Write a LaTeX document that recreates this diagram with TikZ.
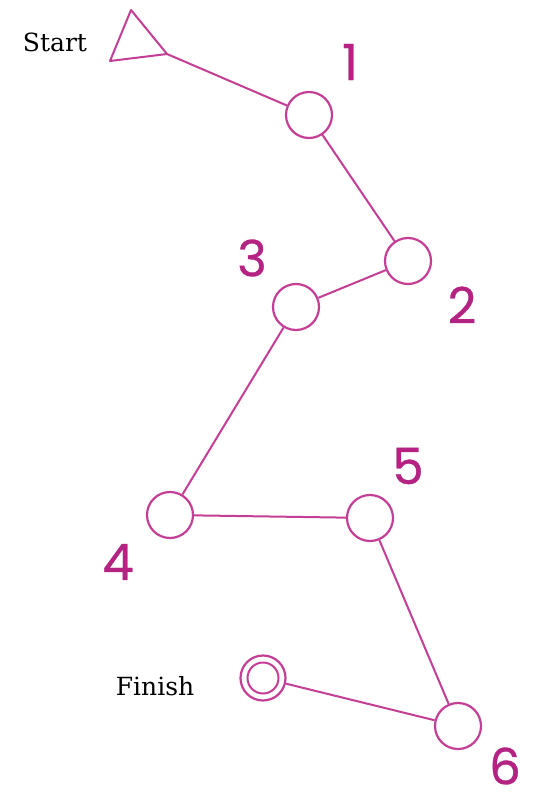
\documentclass[tikz,border=0pt]{standalone}
\usepackage{fontspec}
\newfontfamily\numfont{Poppins}[FakeBold=0.6]
\newfontfamily\labfont{DejaVu Serif}
\definecolor{mg}{RGB}{196,62,150}
\definecolor{mgt}{RGB}{180,35,130}
\begin{document}
\begin{tikzpicture}[x=1pt,y=-1pt,
  st/.style={circle,draw=mg,line width=2.2pt,minimum size=46pt,inner sep=0pt},
  ln/.style={draw=mg,line width=2pt},
  num/.style={text=mgt,font=\numfont\fontsize{50}{50}\selectfont,inner sep=0pt},
  lab/.style={text=black,font=\labfont\fontsize{25}{25}\selectfont,inner sep=0pt}]
\useasboundingbox[fill=white] (0,0) rectangle (538,805);
\coordinate (t1) at (131,10);
\coordinate (t2) at (110,61);
\coordinate (t3) at (167,54);
\draw[ln,line join=round] (t1) -- (t2) -- (t3) -- cycle;
\node[st] (s1) at (309,115) {};
\node[st] (s2) at (408,261) {};
\node[st] (s3) at (296,307) {};
\node[st] (s4) at (170,515) {};
\node[st] (s5) at (370,518) {};
\node[st] (s6) at (458,726) {};
\node[st,minimum size=45pt] (f) at (263,678) {};
\node[circle,draw=mg,line width=2pt,minimum size=31pt,inner sep=0pt] (fi) at (263,678) {};
\draw[ln] (t3) -- (s1);
\draw[ln] (s1) -- (s2);
\draw[ln] (s2) -- (s3);
\draw[ln] (s3) -- (s4);
\draw[ln] (s4) -- (s5);
\draw[ln] (s5) -- (s6);
\draw[ln] (s6) -- (f);
\node[num] (n1) at (350,62) {1};
\node[num] (n2) at (462,305) {2};
\node[num] (n3) at (252,258) {3};
\node[num] (n4) at (118,562) {4};
\node[num] (n5) at (408,466) {5};
\node[num] (n6) at (505,766) {6};
\node[lab] (ls) at (55,42) {Start};
\node[lab] (lf) at (155,686) {Finish};
\end{tikzpicture}
\end{document}
